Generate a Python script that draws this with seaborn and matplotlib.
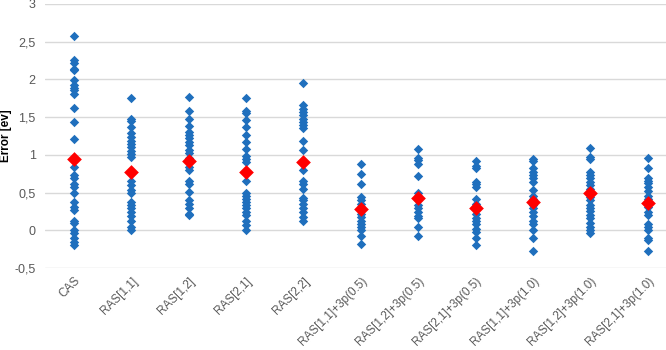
import numpy as np
import pandas as pd
import seaborn as sns
import matplotlib.pyplot as plt
from matplotlib.ticker import FuncFormatter, MultipleLocator

categories = ["CAS", "RAS[1,1]", "RAS[1,2]", "RAS[2,1]", "RAS[2,2]",
              "RAS[1,1]+3p(0.5)", "RAS[1,2]+3p(0.5)", "RAS[2,1]+3p(0.5)",
              "RAS[1,1]+3p(1.0)", "RAS[1,2]+3p(1.0)", "RAS[2,1]+3p(1.0)"]

cas = [2.57, 2.25, 2.22, 2.14, 2.12, 1.99, 1.92, 1.89, 1.86, 1.81, 1.62, 1.43, 1.21,
       0.84, 0.73, 0.69, 0.62, 0.57, 0.49, 0.37, 0.31, 0.27, 0.13, 0.10, 0.00,
       -0.04, -0.10, -0.15, -0.19]
ras11 = [1.75, 1.48, 1.45, 1.37, 1.29, 1.24, 1.19, 1.15, 1.10, 1.05, 1.01, 0.97,
         0.66, 0.60, 0.54, 0.49, 0.38, 0.33, 0.29, 0.24, 0.19, 0.13, 0.05, 0.01]
ras12 = [1.76, 1.58, 1.48, 1.38, 1.30, 1.26, 1.22, 1.17, 1.13, 1.07, 1.02, 0.96,
         0.84, 0.80, 0.66, 0.62, 0.51, 0.40, 0.35, 0.29, 0.22, 0.20]
ras21 = [1.75, 1.58, 1.55, 1.46, 1.37, 1.26, 1.17, 1.08, 0.99, 0.95, 0.91, 0.66,
         0.49, 0.46, 0.42, 0.38, 0.33, 0.29, 0.24, 0.20, 0.13, 0.07, 0.01]
ras22 = [1.95, 1.66, 1.61, 1.57, 1.53, 1.48, 1.44, 1.39, 1.35, 1.19, 1.06, 0.80,
         0.66, 0.62, 0.55, 0.43, 0.40, 0.35, 0.29, 0.24, 0.18, 0.13]
ras11_05 = [0.88, 0.75, 0.61, 0.44, 0.40, 0.35, 0.31, 0.22, 0.18, 0.13, 0.09,
            0.04, 0.01, -0.08, -0.18]
ras12_05 = [1.08, 0.96, 0.93, 0.88, 0.72, 0.49, 0.46, 0.40, 0.34, 0.30, 0.24,
            0.19, 0.16, 0.05, -0.07]
ras21_05 = [0.92, 0.85, 0.82, 0.64, 0.61, 0.57, 0.41, 0.35, 0.32, 0.22, 0.17,
            0.12, 0.08, 0.02, -0.02, -0.10, -0.19]
ras11_10 = [0.95, 0.92, 0.82, 0.77, 0.73, 0.69, 0.64, 0.54, 0.45, 0.42, 0.33,
            0.29, 0.24, 0.19, 0.12, 0.08, 0.00, -0.10, -0.27]
ras12_10 = [1.09, 0.97, 0.94, 0.77, 0.73, 0.69, 0.64, 0.60, 0.55, 0.44, 0.40,
            0.34, 0.30, 0.25, 0.20, 0.16, 0.10, 0.04, 0.00, -0.04]
ras21_10 = [0.96, 0.82, 0.70, 0.66, 0.63, 0.57, 0.52, 0.46, 0.42, 0.31, 0.24,
            0.20, 0.09, 0.04, 0.00, -0.10, -0.13, -0.27]

mean_error = [0.95, 0.77, 0.92, 0.77, 0.90, 0.28, 0.43, 0.29, 0.37, 0.49, 0.36]

series = [cas, ras11, ras12, ras21, ras22, ras11_05, ras12_05, ras21_05,
          ras11_10, ras12_10, ras21_10]
points = pd.DataFrame({
    "method": [c for c, vals in zip(categories, series) for _ in vals],
    "error": [v for vals in series for v in vals],
})
means = pd.DataFrame({"method": categories, "error": mean_error})

sns.set_style("white")
plt.rcParams["font.family"] = ["Liberation Sans", "DejaVu Sans"]

fig = plt.figure(figsize=(6.66, 3.5), dpi=100)
ax = fig.add_axes([0.068, 0.234, 0.932, 0.755])

sns.stripplot(data=points, x="method", y="error", order=categories, jitter=False,
              marker="D", size=4.8, color="#1f6fbd", linewidth=0, ax=ax, zorder=3)
sns.stripplot(data=means, x="method", y="error", order=categories, jitter=False,
              marker="D", size=7.5, color="#ff0000", linewidth=0, ax=ax, zorder=4)

ax.set_ylim(-0.5, 3)
ax.set_xlim(-0.5, 10.32)
ax.yaxis.set_major_locator(MultipleLocator(0.5))
ax.yaxis.set_major_formatter(FuncFormatter(lambda v, p: f"{v:g}".replace(".", ",")))
ax.grid(axis="y", color="#d9d9d9", linewidth=1)
ax.set_axisbelow(True)
for s in ax.spines.values():
    s.set_visible(False)
ax.tick_params(length=0, colors="#595959")
ax.tick_params(axis="y", labelsize=9, pad=7)
ax.tick_params(axis="x", labelsize=8.5, pad=5)
ax.set_xlabel("")
ax.set_ylabel("Error [ev]", fontsize=8.5, fontweight="bold", color="black")
ax.yaxis.set_label_coords(-0.053, 0.5)
plt.setp(ax.get_xticklabels(), rotation=45, ha="right", rotation_mode="anchor")

fig.savefig("out.png", dpi=100)
